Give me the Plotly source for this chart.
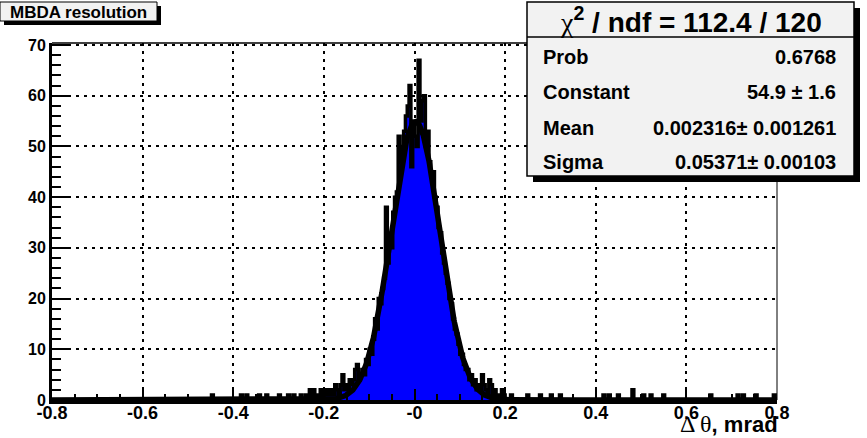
import numpy as np
import plotly.graph_objects as go

# ---------------- data ----------------
bin_width = 0.004
x_min, x_max = -0.8, 0.8

# counts of the central region, bins starting at -0.2 (100 bins of 0.004)
peak_start = -0.2
peak_counts = [2, 1, 2, 1, 2, 1, 3, 2, 1, 3,
               5, 2, 3, 2, 4, 3, 4, 6, 7, 4,
               5, 6, 5, 8, 7, 10, 9, 12, 16, 14,
               20, 19, 22, 24, 38, 27, 32, 30, 37, 40,
               41, 52, 47, 50, 53, 56, 58, 62, 46, 55,
               52, 50, 67, 55, 59, 60, 50, 53, 47, 44,
               45, 40, 38, 34, 33, 29, 27, 25, 23, 20,
               19, 16, 14, 13, 11, 9, 9, 7, 6, 6,
               4, 5, 3, 4, 2, 3, 2, 5, 3, 2,
               1, 4, 3, 1, 2, 1, 1, 0, 2, 1]

left_tail_x = [-0.446, -0.382, -0.370, -0.342, -0.326, -0.298, -0.278,
               -0.266, -0.250, -0.238, -0.230, -0.222, -0.214, -0.206]
left_tail_counts = [1, 1, 1, 1, 1, 1, 1, 1, 1, 1, 2, 2, 1, 2]

right_tail_x = [0.214, 0.250, 0.278, 0.302, 0.322, 0.418, 0.430, 0.450,
                0.482, 0.506, 0.522, 0.550, 0.654, 0.714, 0.726, 0.754, 0.794]
right_tail_counts = [1, 1, 1, 1, 1, 1, 1, 1, 2, 1, 1, 1, 1, 1, 1, 1, 1]

# fit results (from the stats box)
fit_constant = 54.9
fit_mean = 0.002316
fit_sigma = 0.05371

x_tick_vals = [-0.8, -0.6, -0.4, -0.2, 0.0, 0.2, 0.4, 0.6, 0.8]
x_tick_text = ["-0.8", "-0.6", "-0.4", "-0.2", "-0", "0.2", "0.4", "0.6", "0.8"]
y_tick_vals = [0, 10, 20, 30, 40, 50, 60, 70]

stats_labels = ["Prob", "Constant", "Mean", "Sigma"]
stats_values = ["0.6768", "54.9 \u00b1 1.6", "0.002316\u00b1 0.001261", "0.05371\u00b1 0.00103"]
chi2_text = "112.4 / 120"
title_text = "MBDA resolution"

# ---------------- build histogram ----------------
n_bins = int(round((x_max - x_min) / bin_width))
edges = x_min + bin_width * np.arange(n_bins + 1)
counts = np.zeros(n_bins)
i0 = int(round((peak_start - x_min) / bin_width))
counts[i0:i0 + len(peak_counts)] = peak_counts
for xv, c in zip(left_tail_x + right_tail_x, left_tail_counts + right_tail_counts):
    counts[int((xv - x_min) // bin_width)] = c

hx = edges
hy = np.append(counts, counts[-1])

fx = np.linspace(x_min, x_max, 1601)
fy = fit_constant * np.exp(-0.5 * ((fx - fit_mean) / fit_sigma) ** 2)

W, H = 867, 438
L, R, T, B = 52, 777, 43, 400
pw, ph = R - L, B - T


def px(x):
    return (x - L) / pw


def py(y):
    return (B - y) / ph


FONT = "Liberation Sans, Arial, Helvetica, sans-serif"

fig = go.Figure()
fig.add_trace(go.Scatter(x=hx, y=hy, mode="lines", line_shape="hv",
                         line=dict(color="black", width=3.5),
                         fill="tozeroy", fillcolor="#0000ff", hoverinfo="skip"))
fig.add_trace(go.Scatter(x=fx, y=fy, mode="lines",
                         line=dict(color="black", width=5.5), hoverinfo="skip"))

grid_dash = "3px,5px"
fig.update_layout(
    width=W, height=H,
    margin=dict(l=L, r=W - R, t=T, b=H - B, pad=0),
    paper_bgcolor="white", plot_bgcolor="white",
    showlegend=False,
    xaxis=dict(range=[x_min, x_max], tickvals=x_tick_vals, ticktext=x_tick_text,
               automargin=False, ticklabelstandoff=-7,
               ticks="inside", ticklen=11, tickwidth=1.5, tickcolor="black",
               showline=True, linecolor="black", linewidth=4,
               showgrid=True, gridcolor="black", gridwidth=2, griddash=grid_dash,
               zeroline=False,
               minor=dict(dtick=0.05, tick0=0, ticks="inside", ticklen=6,
                          tickwidth=1.5, tickcolor="black", showgrid=False),
               tickfont=dict(family=FONT, size=18, color="black", weight="bold")),
    yaxis=dict(range=[0, 70.4], tickvals=y_tick_vals,
               automargin=False,
               ticks="inside", ticklen=17, tickwidth=1.5, tickcolor="black",
               showline=True, linecolor="black", linewidth=3,
               showgrid=True, gridcolor="black", gridwidth=2, griddash=grid_dash,
               zeroline=False,
               minor=dict(dtick=2, tick0=0, ticks="inside", ticklen=9,
                          tickwidth=1.5, tickcolor="black", showgrid=False),
               tickfont=dict(family=FONT, size=16, color="black", weight="bold")),
)

shapes = []
# top and right frame lines
shapes.append(dict(type="line", xref="paper", yref="paper", x0=0, x1=1, y0=1, y1=1,
                   line=dict(color="black", width=1.5)))
shapes.append(dict(type="line", xref="paper", yref="paper", x0=1, x1=1, y0=0, y1=1,
                   line=dict(color="black", width=1)))

# title box
tb = (0, 2, 157, 21)
sh = 4
shapes.append(dict(type="rect", xref="paper", yref="paper",
                   x0=px(tb[0] + sh), x1=px(tb[2] + sh), y0=py(tb[3] + sh), y1=py(tb[1] + sh),
                   fillcolor="black", line=dict(width=0)))
shapes.append(dict(type="rect", xref="paper", yref="paper",
                   x0=px(tb[0]), x1=px(tb[2]), y0=py(tb[3]), y1=py(tb[1]),
                   fillcolor="#f2f2f2", line=dict(color="black", width=1)))

# stats box
sb = (527, 2, 854, 176)
sh2 = 6
shapes.append(dict(type="rect", xref="paper", yref="paper",
                   x0=px(sb[0] + sh2), x1=px(sb[2] + sh2), y0=py(sb[3] + sh2), y1=py(sb[1] + sh2),
                   fillcolor="black", line=dict(width=0)))
shapes.append(dict(type="rect", xref="paper", yref="paper",
                   x0=px(sb[0]), x1=px(sb[2]), y0=py(sb[3]), y1=py(sb[1]),
                   fillcolor="#f2f2f2", line=dict(color="black", width=1.5)))
shapes.append(dict(type="line", xref="paper", yref="paper",
                   x0=px(sb[0]), x1=px(sb[2]), y0=py(37), y1=py(37),
                   line=dict(color="black", width=1.5)))
fig.update_layout(shapes=shapes)

ann = []
ann.append(dict(xref="paper", yref="paper", x=px((tb[0] + tb[2]) / 2), y=py(12),
                text=title_text, showarrow=False, xanchor="center", yanchor="middle",
                font=dict(family=FONT, size=17, color="black", weight="bold")))
ann.append(dict(xref="paper", yref="paper", x=px((sb[0] + sb[2]) / 2), y=py(20),
                text='<span style="font-family:Liberation Serif;font-weight:normal">\u03c7</span>'
                     '<sup>2</sup> / ndf = ' + chi2_text,
                showarrow=False, xanchor="center", yanchor="middle",
                font=dict(family=FONT, size=28, color="black", weight="bold")))
row_y = [57, 92, 128, 162]
for lab, val, yy in zip(stats_labels, stats_values, row_y):
    ann.append(dict(xref="paper", yref="paper", x=px(541), y=py(yy), text=lab,
                    showarrow=False, xanchor="left", yanchor="middle",
                    font=dict(family=FONT, size=20, color="black", weight="bold")))
    ann.append(dict(xref="paper", yref="paper", x=px(838), y=py(yy), text=val,
                    showarrow=False, xanchor="right", yanchor="middle",
                    font=dict(family=FONT, size=20, color="black", weight="bold")))
ann.append(dict(xref="paper", yref="paper", x=px(780), y=py(424),
                text='<span style="font-family:Liberation Serif;font-weight:normal;font-size:24px">\u0394 \u03b8</span>, mrad',
                showarrow=False, xanchor="right", yanchor="middle",
                font=dict(family=FONT, size=22, color="black", weight="bold")))
fig.update_layout(annotations=ann)

fig.write_html("out.html")
